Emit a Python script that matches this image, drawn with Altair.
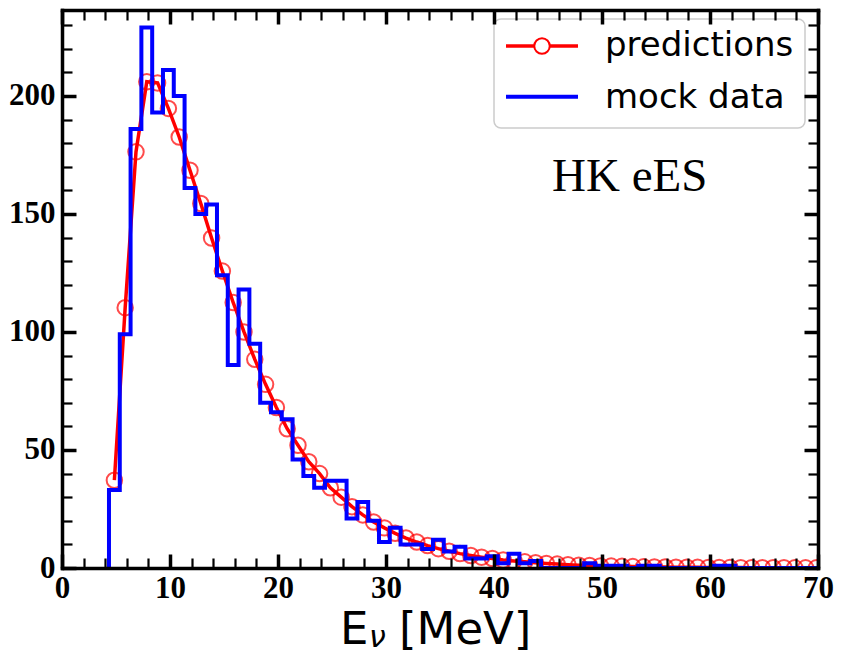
import altair as alt
import pandas as pd

# ---------------- data ----------------
BIN_START = 4.35      # MeV, first histogram edge
BIN_WIDTH = 1.0       # MeV
mock_counts = [33, 99, 186, 229, 193, 211, 200, 161, 150, 154,
               124, 86, 118, 95, 70, 66, 63, 46, 39, 34,
               37, 37, 21, 28, 20, 11, 17, 10, 10, 8,
               12, 7, 9, 4, 4, 5, 2, 6, 2, 3,
               0, 0, 0, 0, 2, 1, 1, 1, 0, 1,
               1, 0, 0, 0, 0, 0, 1, 1, 0, 0,
               0, 0, 0, 0, 0, 0]
predictions = [37.2, 110.3, 176.3, 206.0, 205.5, 194.7, 182.6, 168.5, 154.4, 139.8,
               125.8, 112.5, 100.0, 88.4, 77.8, 68.0, 59.0, 52.0, 45.0, 40.0,
               34.0, 30.0, 26.0, 22.5, 19.5, 17.0, 14.7, 12.7, 11.0, 9.5,
               8.2, 7.1, 6.1, 5.3, 4.6, 4.0, 3.4, 3.0, 2.6, 2.2,
               1.9, 1.65, 1.4, 1.2, 1.05, 0.9, 0.8, 0.7, 0.6, 0.5,
               0.45, 0.4, 0.35, 0.3, 0.27, 0.24, 0.2, 0.18, 0.16, 0.14,
               0.12, 0.1, 0.09, 0.08, 0.07, 0.06]
x_major = [0, 10, 20, 30, 40, 50, 60, 70]
x_minor = [2, 4, 6, 8, 12, 14, 16, 18, 22, 24, 26, 28, 32, 34, 36, 38,
           42, 44, 46, 48, 52, 54, 56, 58, 62, 64, 66, 68]
y_major = [0, 50, 100, 150, 200]
y_minor = [10, 20, 30, 40, 60, 70, 80, 90, 110, 120, 130, 140,
           160, 170, 180, 190, 210, 220, 230]
X_DOMAIN = [0, 70]
Y_DOMAIN = [0, 236.4]

# ---------------- tables ----------------
n = len(mock_counts)
edges = [BIN_START + i * BIN_WIDTH for i in range(n + 1)]
centers = [e + BIN_WIDTH / 2 for e in edges[:-1]]
pred_df = pd.DataFrame({"E": centers, "N": predictions})
step_rows = [{"E": edges[0], "N": 0, "o": 0}]
for i, c in enumerate(mock_counts):
    step_rows.append({"E": edges[i], "N": c, "o": i + 1})
step_rows.append({"E": edges[n], "N": 0, "o": n + 1})
step_df = pd.DataFrame(step_rows)
one = pd.DataFrame({"v": [0]})

W, H = 756, 558
TICK_FONT = "Liberation Serif"
SANS = "DejaVu Sans"

xs = alt.Scale(domain=X_DOMAIN, nice=False, zero=False)
ys = alt.Scale(domain=Y_DOMAIN, nice=False, zero=False)

common = dict(grid=False, title=None, zindex=1)


def tick_axis(orient, values, size, width, offset, domain=False):
    return alt.Axis(orient=orient, values=values, labels=False, ticks=True,
                    tickSize=size, tickWidth=width, tickColor="black",
                    offset=offset, domain=domain, domainColor="black",
                    domainWidth=3.5, domainCap="square", **common)


# labelled axes with the bottom/left spines
x_lab = alt.Axis(orient="bottom", values=x_major, format="d", ticks=False, tickSize=0,
                 labelFont=TICK_FONT, labelFontSize=31, labelFontWeight="bold",
                 labelColor="black", labelPadding=5, labelFlush=False, labelOverlap=False,
                 domain=True, domainColor="black", domainWidth=3.5, domainCap="square",
                 **common)
y_lab = alt.Axis(orient="left", values=y_major, format="d", ticks=False, tickSize=0,
                 labelFont=TICK_FONT, labelFontSize=31, labelFontWeight="bold",
                 labelColor="black", labelPadding=7, labelFlush=False, labelOverlap=False,
                 domain=True, domainColor="black", domainWidth=3.5, domainCap="square",
                 **common)

MAJ, MIN = 14, 10

red_line = alt.Chart(pred_df).mark_line(color="#ff0000", strokeWidth=3.5, clip=True).encode(
    x=alt.X("E:Q", scale=xs, axis=x_lab),
    y=alt.Y("N:Q", scale=ys, axis=y_lab),
)
red_pts = alt.Chart(pred_df).mark_point(shape="circle", filled=False, size=240,
                                        strokeWidth=2, color="#ff0000", clip=True).encode(
    x=alt.X("E:Q", scale=xs, axis=tick_axis("top", x_major, MAJ, 3.5, -H)),
    y=alt.Y("N:Q", scale=ys, axis=tick_axis("right", y_major, MAJ, 3.5, -W)),
)
blue = alt.Chart(step_df).mark_line(color="#0000ff", strokeWidth=4, interpolate="step-after",
                                    clip=True).encode(
    x=alt.X("E:Q", scale=xs, axis=tick_axis("top", x_minor, MIN, 2.2, -H)),
    y=alt.Y("N:Q", scale=ys, axis=tick_axis("right", y_minor, MIN, 2.2, -W)),
    order="o:Q",
)
dummy1 = alt.Chart(pred_df).mark_point(opacity=0).encode(
    x=alt.X("E:Q", scale=xs, axis=tick_axis("bottom", x_major, MAJ, 3.5, -H, domain=True)),
    y=alt.Y("N:Q", scale=ys, axis=tick_axis("left", y_major, MAJ, 3.5, -W, domain=True)),
)
dummy2 = alt.Chart(pred_df).mark_point(opacity=0).encode(
    x=alt.X("E:Q", scale=xs, axis=tick_axis("bottom", x_minor, MIN, 2.2, -H)),
    y=alt.Y("N:Q", scale=ys, axis=tick_axis("left", y_minor, MIN, 2.2, -W)),
)

# legend (drawn by hand)
leg_box = alt.Chart(one).mark_rect(fill="white", fillOpacity=0.8, stroke="#cccccc",
                                   strokeWidth=1.5, cornerRadius=7).encode(
    x=alt.value(432), x2=alt.value(743), y=alt.value(9), y2=alt.value(118))
leg_red = alt.Chart(one).mark_rule(color="#ff0000", strokeWidth=3.5).encode(
    x=alt.value(444), x2=alt.value(516), y=alt.value(36))
leg_circ = alt.Chart(one).mark_point(shape="circle", filled=True, fill="white", stroke="#ff0000",
                                     strokeWidth=2, size=240, opacity=1).encode(
    x=alt.value(480), y=alt.value(36))
leg_blue = alt.Chart(one).mark_rule(color="#0000ff", strokeWidth=4).encode(
    x=alt.value(444), x2=alt.value(516), y=alt.value(86.7))
leg_t1 = alt.Chart(one).mark_text(font=SANS, fontSize=34, align="left", baseline="alphabetic",
                                  color="black").encode(
    x=alt.value(543), y=alt.value(46), text=alt.value("predictions"))
leg_t2 = alt.Chart(one).mark_text(font=SANS, fontSize=34, align="left", baseline="alphabetic",
                                  color="black").encode(
    x=alt.value(543), y=alt.value(97.7), text=alt.value("mock data"))

label_hk = alt.Chart(one).mark_text(font="Liberation Serif", fontSize=47, align="left",
                                    baseline="alphabetic", color="black").encode(
    x=alt.value(490), y=alt.value(181), text=alt.value("HK eES"))

# x-axis title  E_nu [MeV]
t_E = alt.Chart(one).mark_text(font=SANS, fontSize=45, align="left", baseline="alphabetic",
                               color="black").encode(
    x=alt.value(278), y=alt.value(634), text=alt.value("E"))
t_nu = alt.Chart(one).mark_text(font=SANS, fontSize=30, fontStyle="italic", align="left",
                                baseline="alphabetic", color="black").encode(
    x=alt.value(307), y=alt.value(637), text=alt.value("ν"))
t_mev = alt.Chart(one).mark_text(font=SANS, fontSize=45, align="left", baseline="alphabetic",
                                 color="black").encode(
    x=alt.value(337), y=alt.value(634), text=alt.value("[MeV]"))

chart = alt.layer(
    red_line, red_pts, blue, dummy1, dummy2,
    leg_box, leg_red, leg_circ, leg_blue, leg_t1, leg_t2, label_hk,
    t_E, t_nu, t_mev,
).resolve_axis(x="independent", y="independent").properties(
    width=W, height=H, autosize="none",
    padding={"left": 54, "top": 2, "right": 16, "bottom": 87},
    background="white",
).configure_view(stroke=None)

chart.save("out.html", embed_options={"renderer": "svg", "actions": False})
